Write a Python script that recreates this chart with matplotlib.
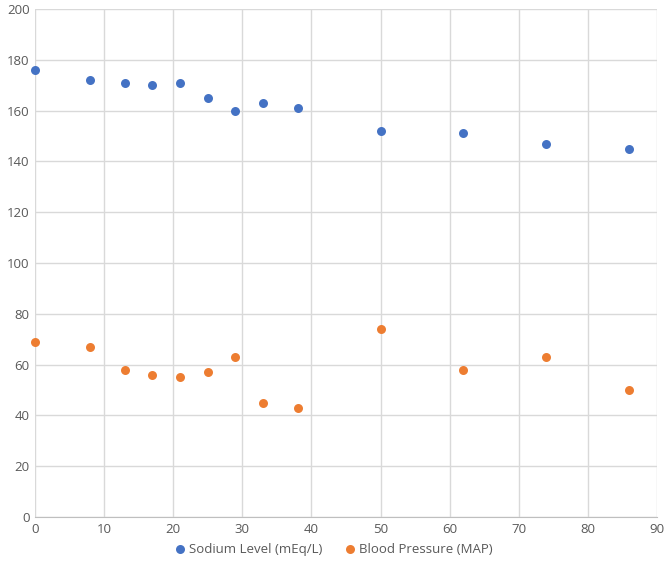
import matplotlib
matplotlib.use('Agg')
import matplotlib.pyplot as plt

days = [0, 8, 13, 17, 21, 25, 29, 33, 38, 50, 62, 74, 86]
sodium = [176, 172, 171, 170, 171, 165, 160, 163, 161, 152, 151, 147, 145]
map_bp = [69, 67, 58, 56, 55, 57, 63, 45, 43, 74, 58, 63, 50]

plt.rcParams['font.family'] = ['Open Sans', 'DejaVu Sans']

fig = plt.figure(figsize=(6.68, 5.72), dpi=100)
ax = fig.add_axes([0.0524, 0.0962, 0.9311, 0.8881])

ax.scatter(days, sodium, s=42, color='#4472C4', label='Sodium Level (mEq/L)', zorder=3, linewidths=0)
ax.scatter(days, map_bp, s=42, color='#ED7D31', label='Blood Pressure (MAP)', zorder=3, linewidths=0)

ax.set_xlim(0, 90)
ax.set_ylim(0, 200)
ax.set_xticks(range(0, 91, 10))
ax.set_yticks(range(0, 201, 20))
ax.grid(True, color='#d9d9d9', linewidth=1)
ax.set_axisbelow(True)
for side in ['top', 'right', 'left']:
    ax.spines[side].set_visible(False)
ax.spines['bottom'].set_color('#bfbfbf')
ax.tick_params(length=0, labelsize=9.5, labelcolor='#595959', pad=4)
for c in ax.collections:
    c.set_clip_on(False)

fig.legend(loc='lower center', bbox_to_anchor=(0.5, 0.008), ncol=2, frameon=False,
           fontsize=9.5, labelcolor='#595959', handlelength=0.7, handletextpad=0.3,
           columnspacing=1.8, markerscale=1.0)

plt.savefig('out.png', dpi=100)
